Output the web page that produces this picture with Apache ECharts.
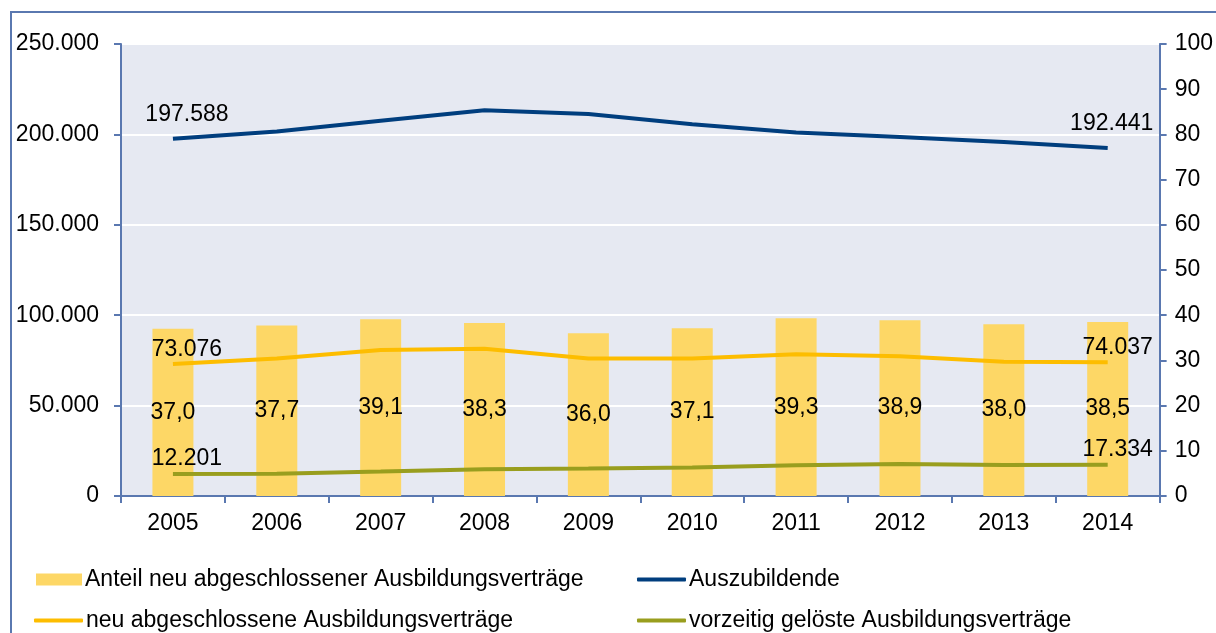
<!DOCTYPE html>
<html>
<head>
<meta charset="utf-8">
<script src="https://cdn.jsdelivr.net/npm/echarts@6/dist/echarts.min.js"></script>
<style>
  html, body { margin: 0; padding: 0; background: #fff; }
  #chart { width: 1216px; height: 633px; }
</style>
</head>
<body>
<div id="chart"></div>
<script>
var years = ['2005', '2006', '2007', '2008', '2009', '2010', '2011', '2012', '2013', '2014'];
// Anteil neu abgeschlossener Ausbildungsvertraege (%)
var anteil = [37.0, 37.7, 39.1, 38.3, 36.0, 37.1, 39.3, 38.9, 38.0, 38.5];
var auszubildende = [197588, 201600, 207600, 213300, 211300, 205600, 201000, 198600, 195800, 192441];
var neuAbgeschlossen = [73076, 76000, 80700, 81500, 76000, 76000, 78400, 77300, 74200, 74037];
var vorzeitigGeloest = [12201, 12300, 13500, 14800, 15200, 15700, 17000, 17700, 17200, 17334];

var axisColor = '#5a78b0';
var fontFam = '"Liberation Sans", Arial, sans-serif';
var fs = 23;

function fmtThousands(v) {
    var s = String(Math.round(v));
    return s.replace(/\B(?=(\d{3})+(?!\d))/g, '.');
}

// only first and last point get a value label
function withEndLabels(values, dist, lastOffset) {
    var out = [];
    for (var i = 0; i < values.length; i++) {
        if (i == 0 || i == values.length - 1) {
            out.push({
                value: values[i],
                label: {
                    show: true,
                    position: 'top',
                    distance: dist,
                    offset: [i == 0 ? 14 : lastOffset, 0],
                    formatter: function (p) { return fmtThousands(p.value); },
                    color: '#000',
                    fontSize: fs,
                    fontFamily: fontFam
                }
            });
        } else {
            out.push(values[i]);
        }
    }
    return out;
}

function oneLegend(name, left, top, w, h, icon) {
    return {
        left: left, top: top,
        padding: 0,
        icon: icon,
        itemWidth: w, itemHeight: h,
        textStyle: { color: '#000', fontSize: fs, fontFamily: fontFam, padding: [0, 0, 0, -2] },
        data: [name]
    };
}

var myChart = echarts.init(document.getElementById('chart'));
var option = {
    animation: false,
    textStyle: { fontFamily: fontFam },
    graphic: [{
        type: 'rect',
        shape: { x: 11, y: 12, width: 1400, height: 800 },
        style: { fill: 'none', stroke: axisColor, lineWidth: 2 },
        silent: true
    }],
    grid: {
        left: 121, right: 56, top: 44, bottom: 137,
        show: true, backgroundColor: '#e6e9f2', borderWidth: 0
    },
    legend: [
        oneLegend('Anteil neu abgeschlossener Ausbildungsverträge', 36, 568, 46, 12, 'rect'),
        oneLegend('neu abgeschlossene Ausbildungsverträge', 34, 609, 49, 4, 'roundRect'),
        oneLegend('Auszubildende', 637, 568, 49, 4, 'roundRect'),
        oneLegend('vorzeitig gelöste Ausbildungsverträge', 637, 609, 49, 4, 'roundRect')
    ],
    xAxis: [{
        type: 'category',
        data: years,
        axisLine: { lineStyle: { color: axisColor, width: 2 } },
        axisTick: { show: true, length: 7, lineStyle: { color: axisColor, width: 2 } },
        axisLabel: { color: '#000', fontSize: fs, margin: 16 }
    }, {
        type: 'category',
        position: 'top',
        data: years,
        axisLine: { lineStyle: { color: axisColor, width: 2 } },
        axisTick: { show: false },
        axisLabel: { show: false }
    }],
    yAxis: [{
        type: 'value',
        min: 0, max: 250000, interval: 50000,
        axisLine: { show: true, lineStyle: { color: axisColor, width: 2 } },
        axisTick: { show: true, length: 7, lineStyle: { color: axisColor, width: 2 } },
        axisLabel: { color: '#000', fontSize: fs, margin: 22, formatter: fmtThousands },
        splitLine: { show: true, lineStyle: { color: '#ffffff', width: 2 } }
    }, {
        type: 'value',
        min: 0, max: 100, interval: 10,
        position: 'right',
        axisLine: { show: true, lineStyle: { color: axisColor, width: 2 } },
        axisTick: { show: true, length: 7, lineStyle: { color: axisColor, width: 2 } },
        axisLabel: { color: '#000', fontSize: fs, margin: 15 },
        splitLine: { show: false }
    }],
    series: [{
        name: 'Anteil neu abgeschlossener Ausbildungsverträge',
        type: 'bar',
        yAxisIndex: 1,
        barWidth: 41,
        data: anteil,
        itemStyle: { color: '#fdd766' },
        label: {
            show: true,
            position: 'inside',
            color: '#000',
            fontSize: fs,
            fontFamily: fontFam,
            formatter: function (p) { return p.value.toFixed(1).replace('.', ','); }
        }
    }, {
        name: 'Auszubildende',
        type: 'line',
        symbol: 'circle',
        symbolSize: 0,
        showSymbol: true,
        data: withEndLabels(auszubildende, 13, 4),
        lineStyle: { color: '#003e7e', width: 4 },
        itemStyle: { color: '#003e7e' }
    }, {
        name: 'neu abgeschlossene Ausbildungsverträge',
        type: 'line',
        symbol: 'circle',
        symbolSize: 0,
        showSymbol: true,
        data: withEndLabels(neuAbgeschlossen, 3, 10),
        lineStyle: { color: '#fdbd00', width: 4 },
        itemStyle: { color: '#fdbd00' }
    }, {
        name: 'vorzeitig gelöste Ausbildungsverträge',
        type: 'line',
        symbol: 'circle',
        symbolSize: 0,
        showSymbol: true,
        data: withEndLabels(vorzeitigGeloest, 4, 10),
        lineStyle: { color: '#999e1e', width: 4 },
        itemStyle: { color: '#999e1e' }
    }]
};
myChart.setOption(option);
</script>
</body>
</html>
